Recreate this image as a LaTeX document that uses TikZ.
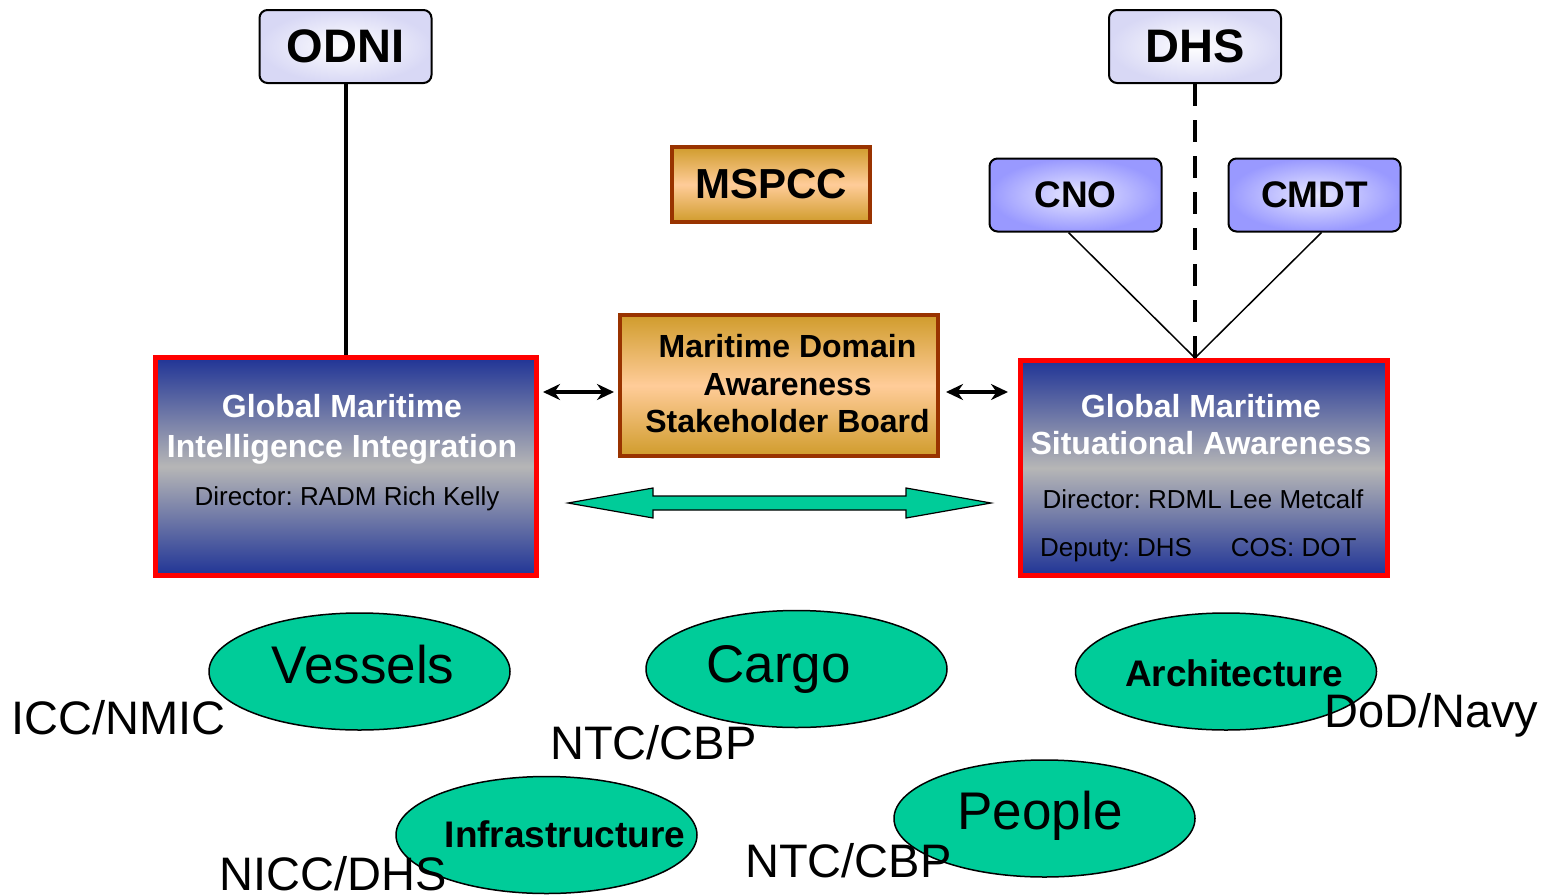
\documentclass[tikz,border=0pt]{standalone}
\usepackage{fontspec}
\setmainfont{Liberation Sans}
\usetikzlibrary{shapes.geometric,arrows.meta}
\frenchspacing

\definecolor{mdagreen}{RGB}{0,204,153}
\definecolor{boxblue}{RGB}{32,52,150}
\definecolor{boxgray}{RGB}{182,182,182}
\definecolor{mdagold}{RGB}{208,156,44}
\definecolor{peach}{RGB}{255,204,153}
\definecolor{rust}{RGB}{153,51,0}
\definecolor{lilac}{RGB}{153,153,255}
\definecolor{paleblue}{RGB}{232,232,255}
\definecolor{mist}{RGB}{216,216,245}

\newcommand{\fsz}[2]{\fontsize{#1}{#2}\selectfont}

\newcommand{\fatarrow}[4]{
	\pgfmathsetmacro{\FAxa}{#1}
	\pgfmathsetmacro{\FAxb}{#2}
	\pgfmathsetmacro{\FAya}{#3-15}
	\pgfmathsetmacro{\FAyb}{#3-7}
	\pgfmathsetmacro{\FAyc}{#3+7}
	\pgfmathsetmacro{\FAyd}{#3+15}
	\pgfmathsetmacro{\FAha}{#1+#4}
	\pgfmathsetmacro{\FAhb}{#2-#4}
	\draw[fill=mdagreen, line width=1.2pt] (\FAxa,#3) -- (\FAha,\FAya) -- (\FAha,\FAyb) -- (\FAhb,\FAyb) -- (\FAhb,\FAya) -- (\FAxb,#3) -- (\FAhb,\FAyd) -- (\FAhb,\FAyc) -- (\FAha,\FAyc) -- (\FAha,\FAyd) -- cycle;
}

\tikzset{
	topbox/.style={draw, line width=2pt, rounded corners=8pt, inner color=white, outer color=mist, minimum width=172pt, minimum height=73pt, inner sep=0pt, font=\fsz{47}{56}\bfseries},
	navbox/.style={topbox, inner color=paleblue, outer color=lilac, font=\fsz{37}{44}\bfseries},
	goldbox/.style={draw=rust, line width=4pt, top color=mdagold, bottom color=mdagold, middle color=peach, inner sep=0pt},
	centerbox/.style={draw=red, line width=5pt, top color=boxblue, bottom color=boxblue, middle color=boxgray},
	title/.style={text=white, align=center, inner sep=0pt, font=\fsz{32}{40}\bfseries},
	staff/.style={anchor=base, inner sep=0pt, font=\fsz{26}{31}},
	topic/.style={ellipse, draw, line width=1.5pt, fill=mdagreen, minimum width=301pt, minimum height=117pt},
	word/.style={anchor=base, inner sep=0pt, font=\fsz{53}{60}},
	boldword/.style={anchor=base, inner sep=0pt, font=\fsz{37}{44}\bfseries},
	agency/.style={anchor=base west, inner sep=0pt, font=\fsz{47}{56}},
	link/.style={line width=3.5pt, {Stealth[length=17pt,width=16pt]}-{Stealth[length=17pt,width=16pt]}}
}

\begin{document}
\begin{tikzpicture}[x=1pt,y=-1pt]
\useasboundingbox (0,0) rectangle (1547,894);

\node[topbox] (odni) at (345.5,46.5) {ODNI};
\node[topbox] (dhs) at (1195,46.5) {DHS};
\node[navbox] (cno) at (1075.5,195) {CNO};
\node[navbox] (cmdt) at (1314.5,195) {CMDT};
\node[goldbox, minimum width=198pt, minimum height=75pt, font=\fsz{42}{48}\bfseries] (mspcc) at (771,184.5) {MSPCC};

\node[centerbox, minimum width=381pt, minimum height=218pt] (gmii) at (345.5,466.5) {};
\node[centerbox, minimum width=367pt, minimum height=215pt] (gmsa) at (1204,468) {};
\node[goldbox, minimum width=318pt, minimum height=141pt] (mdasb) at (779,385.5) {};

\node[title] (gmiiT) at (342,429) {Global Maritime\\Intelligence Integration};
\node[staff] (gmiiD) at (347,505) {Director: RADM Rich Kelly};
\node[title, font=\fsz{32}{37}\bfseries] (gmsaT) at (1201,425) {Global Maritime\\Situational Awareness};
\node[staff] (gmsaD) at (1203,508) {Director: RDML Lee Metcalf};
\node[staff, anchor=base west] (gmsaS) at (1040,556) {Deputy: DHS\hspace{39pt}COS: DOT};
\node[align=center, inner sep=0pt, font=\fsz{32}{37.5}\bfseries] (mdasbT) at (787.5,384) {Maritime Domain\\Awareness\\Stakeholder Board};

% links to the two centres
\coordinate (hub) at (dhs.south |- gmsa.north);
\coordinate (armrow) at (0,392);
\draw[line width=4pt] (odni.south) -- (odni.south |- gmii.north);
\draw[line width=4pt, dash pattern=on 22pt off 14pt] (dhs.south) -- (hub);
\draw[line width=1.5pt] ([xshift=-7pt]cno.south) -- (hub);
\draw[line width=1.5pt] ([xshift=7pt]cmdt.south) -- (hub);
\draw[link, shorten <=4.5pt, shorten >=4pt] (gmii.east |- armrow) -- (mdasb.west |- armrow);
\draw[link, shorten <=6pt, shorten >=10pt] (mdasb.east |- armrow) -- (gmsa.west |- armrow);

\fatarrow{568}{991}{503}{85}

% focus areas
\node[topic] (vessels) at (359.5,671.5) {};
\node[topic] (cargo) at (796.5,669) {};
\node[topic] (arch) at (1226,671.5) {};
\node[topic] (infra) at (546.5,835) {};
\node[topic] (people) at (1044.5,818.5) {};

\node[word] (vesselsT) at (363,683) {Vessels};
\node[word] (cargoT) at (778.5,682) {Cargo};
\node[boldword] (archT) at (1234,686) {Architecture};
\node[boldword] (infraT) at (565,847) {Infrastructure};
\node[word] (peopleT) at (1040,829) {People};

\node[agency] (icc) at (11,734) {ICC/NMIC};
\node[agency] (ntcA) at (550,759) {NTC/CBP};
\node[agency] (dod) at (1324,727) {DoD/Navy};
\node[agency] (nicc) at (219,890) {NICC/DHS};
\node[agency] (ntcB) at (745,877) {NTC/CBP};
\end{tikzpicture}
\end{document}
